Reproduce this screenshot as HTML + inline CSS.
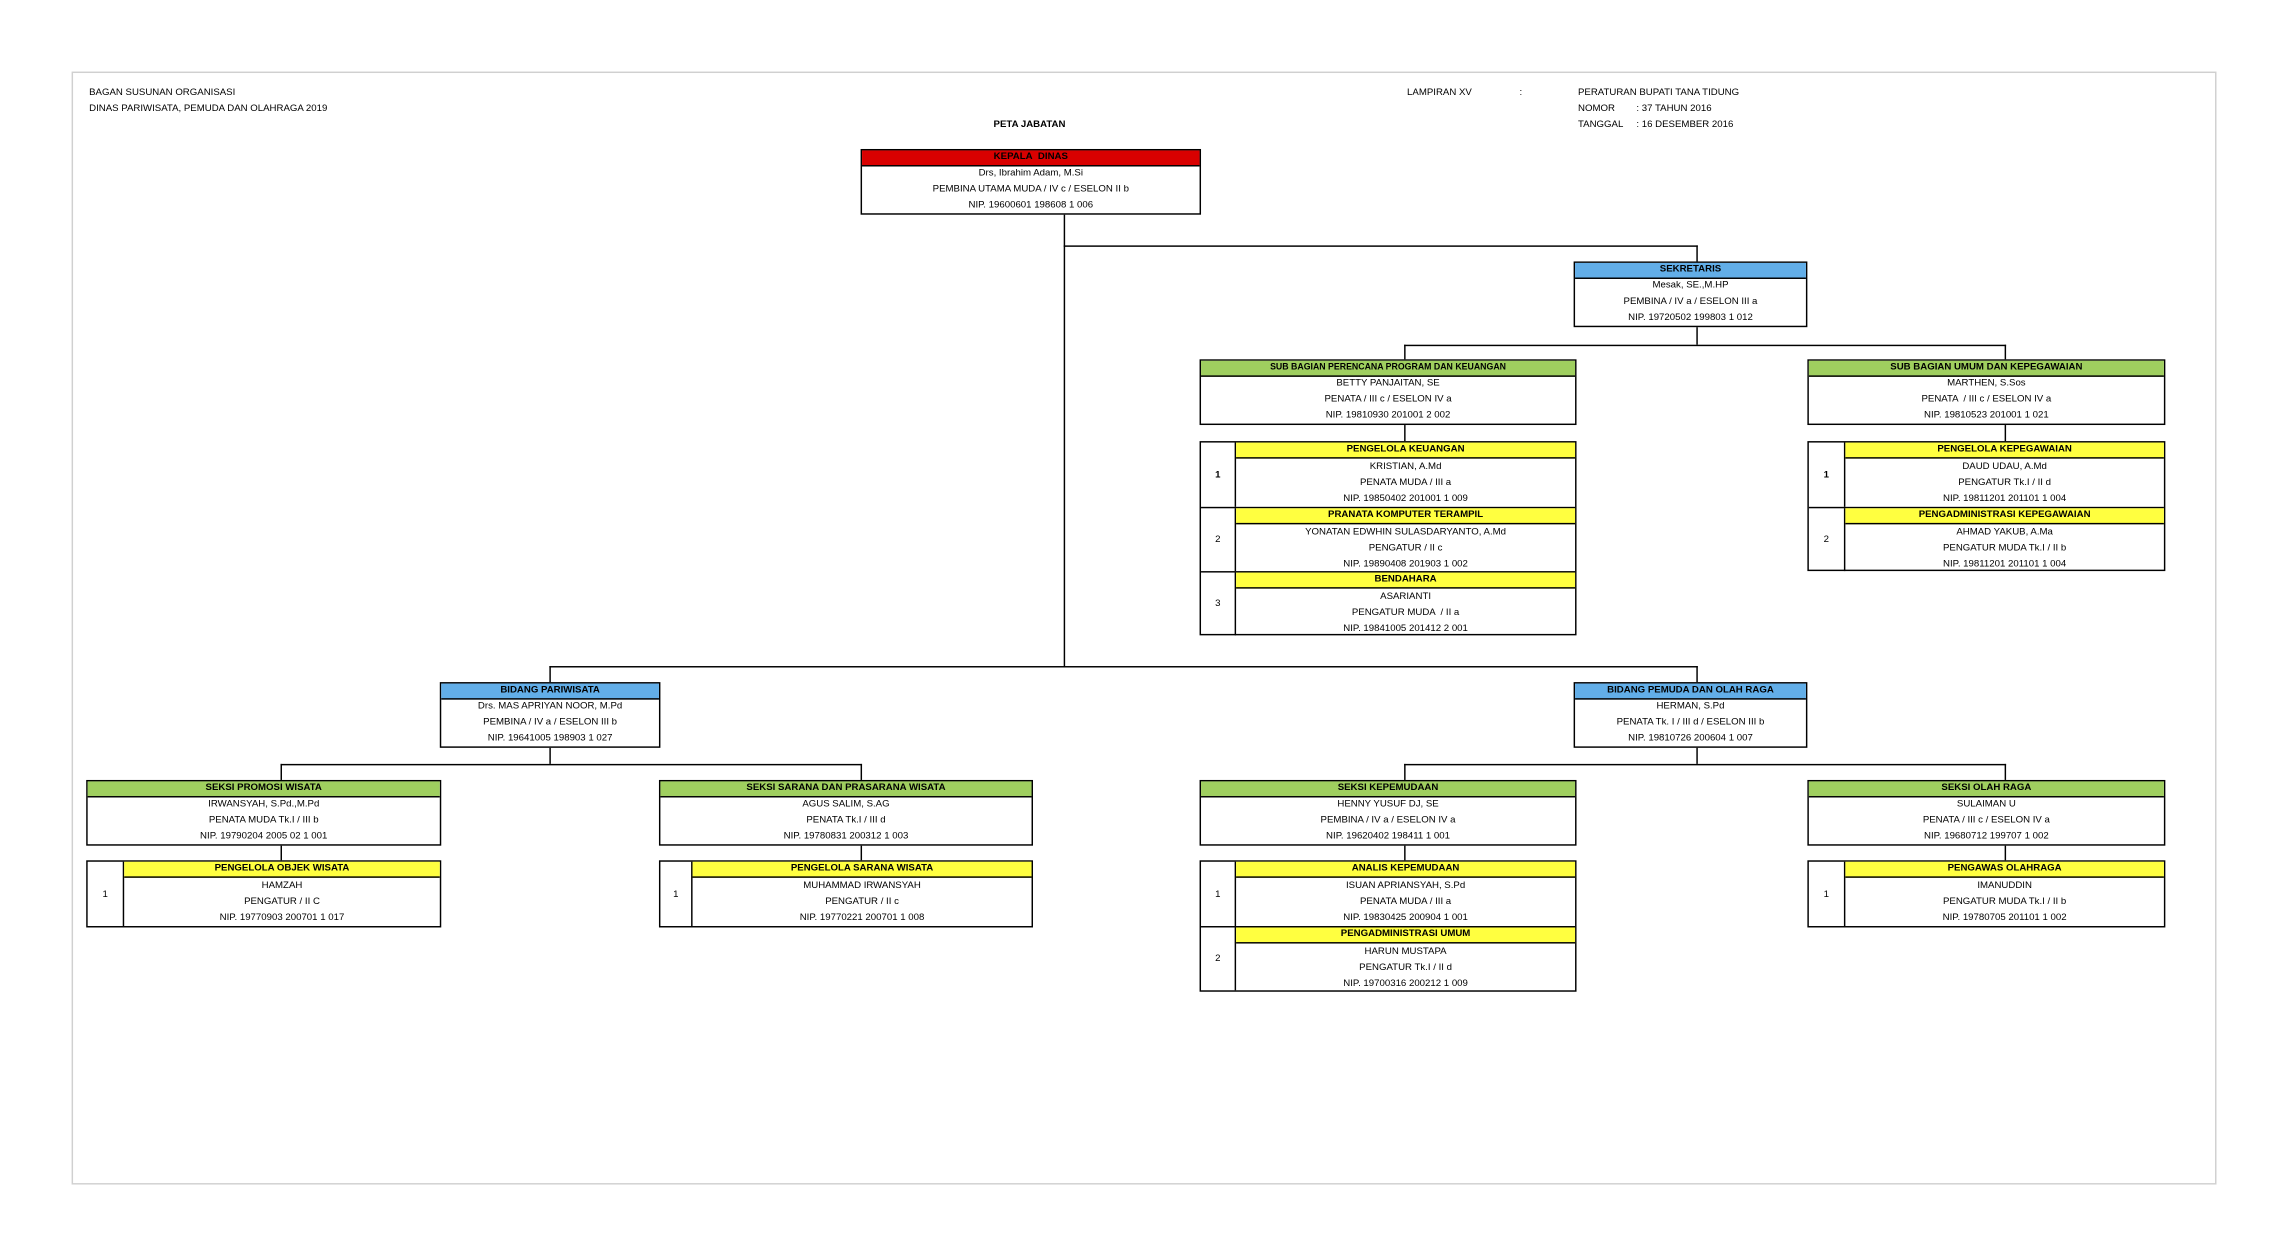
<!DOCTYPE html>
<html><head><meta charset="utf-8"><style>
html,body{margin:0;padding:0;background:#fff;width:2291px;height:1259px;overflow:hidden}
#c{position:absolute;left:0;top:0;width:1568px;height:862px;transform:scale(1.4611,1.4606);transform-origin:0 0;font-family:"Liberation Sans Narrow","Liberation Sans",sans-serif;font-size:6.6px;color:#000}
.t{position:absolute;white-space:nowrap;line-height:9px}
.b{position:absolute;border:1.3px solid #000;background:#fff;box-sizing:border-box}
.h{height:10px;line-height:10px;text-align:center;font-weight:bold;border-bottom:1px solid #000;white-space:nowrap;overflow:hidden}
.r{height:10.8px;line-height:10.8px;text-align:center;white-space:nowrap}
.red{background:#d90000}.blue{background:#62aee8}.green{background:#9fcf5f}.yel{background:#ffff40}
.l{position:absolute;background:#000}
.e{display:flex;border-top:1.3px solid #000;height:44px;box-sizing:border-box}
.e:first-child{border-top:none}
.n{border-right:1.3px solid #000;display:flex;align-items:center;justify-content:center;box-sizing:border-box}
.cc{flex:1}
.e .r{height:11px;line-height:11px}
</style></head><body><div id="c">
<div style="position:absolute;left:49px;top:49px;width:1468px;height:762px;border:1px solid #d0d0d0;box-sizing:border-box"></div>
<div class="t" style="left:61px;top:59px">BAGAN SUSUNAN ORGANISASI</div>
<div class="t" style="left:61px;top:70px">DINAS PARIWISATA, PEMUDA DAN OLAHRAGA 2019</div>
<div class="t" style="left:680px;top:81px;font-weight:bold">PETA JABATAN</div>
<div class="t" style="left:963px;top:59px">LAMPIRAN XV</div>
<div class="t" style="left:1040px;top:59px">:</div>
<div class="t" style="left:1080px;top:59px">PERATURAN BUPATI TANA TIDUNG</div>
<div class="t" style="left:1080px;top:70px">NOMOR</div><div class="t" style="left:1120px;top:70px">: 37 TAHUN 2016</div>
<div class="t" style="left:1080px;top:81px">TANGGAL</div><div class="t" style="left:1120px;top:81px">: 16 DESEMBER 2016</div>

<!-- lines -->
<div class="l" style="left:728px;top:146px;width:1.3px;height:311px"></div>
<div class="l" style="left:728px;top:168px;width:434px;height:1.3px"></div>
<div class="l" style="left:1161px;top:168px;width:1.3px;height:12px"></div>
<div class="l" style="left:1161px;top:223px;width:1.3px;height:13px"></div>
<div class="l" style="left:961px;top:236px;width:412px;height:1.3px"></div>
<div class="l" style="left:961px;top:236px;width:1.3px;height:11px"></div>
<div class="l" style="left:1372px;top:236px;width:1.3px;height:11px"></div>
<div class="l" style="left:961px;top:290px;width:1.3px;height:13px"></div>
<div class="l" style="left:1372px;top:290px;width:1.3px;height:13px"></div>
<div class="l" style="left:376px;top:456px;width:786px;height:1.3px"></div>
<div class="l" style="left:376px;top:456px;width:1.3px;height:12px"></div>
<div class="l" style="left:1161px;top:456px;width:1.3px;height:12px"></div>
<div class="l" style="left:376px;top:511px;width:1.3px;height:12px"></div>
<div class="l" style="left:192px;top:523px;width:398px;height:1.3px"></div>
<div class="l" style="left:192px;top:523px;width:1.3px;height:12px"></div>
<div class="l" style="left:589px;top:523px;width:1.3px;height:12px"></div>
<div class="l" style="left:192px;top:578px;width:1.3px;height:12px"></div>
<div class="l" style="left:589px;top:578px;width:1.3px;height:12px"></div>
<div class="l" style="left:1161px;top:511px;width:1.3px;height:12px"></div>
<div class="l" style="left:961px;top:523px;width:412px;height:1.3px"></div>
<div class="l" style="left:961px;top:523px;width:1.3px;height:12px"></div>
<div class="l" style="left:1372px;top:523px;width:1.3px;height:12px"></div>
<div class="l" style="left:961px;top:578px;width:1.3px;height:12px"></div>
<div class="l" style="left:1372px;top:578px;width:1.3px;height:12px"></div>

<!-- boxes -->
<div class="b" style="left:589px;top:102px;width:233px;height:45px"><div class="h red">KEPALA&nbsp; DINAS</div><div class="r">Drs, Ibrahim Adam, M.Si</div><div class="r">PEMBINA UTAMA MUDA / IV c / ESELON II b</div><div class="r">NIP. 19600601 198608 1 006</div></div>
<div class="b" style="left:1077px;top:179px;width:160px;height:45px"><div class="h blue">SEKRETARIS</div><div class="r">Mesak, SE.,M.HP</div><div class="r">PEMBINA / IV a / ESELON III a</div><div class="r">NIP. 19720502 199803 1 012</div></div>
<div class="b" style="left:821px;top:246px;width:258px;height:45px"><div class="h green" style="font-size:6px">SUB BAGIAN PERENCANA PROGRAM DAN KEUANGAN</div><div class="r">BETTY PANJAITAN, SE</div><div class="r">PENATA / III c / ESELON IV a</div><div class="r">NIP. 19810930 201001 2 002</div></div>
<div class="b" style="left:1237px;top:246px;width:245px;height:45px"><div class="h green">SUB BAGIAN UMUM DAN KEPEGAWAIAN</div><div class="r">MARTHEN, S.Sos</div><div class="r">PENATA &nbsp;/ III c / ESELON IV a</div><div class="r">NIP. 19810523 201001 1 021</div></div>

<div class="b" style="left:821px;top:302px;width:258px;height:133px">
<div class="e"><div class="n" style="width:24px;font-weight:bold">1</div><div class="cc"><div class="h yel">PENGELOLA KEUANGAN</div><div class="r">KRISTIAN, A.Md</div><div class="r">PENATA MUDA / III a</div><div class="r">NIP. 19850402 201001 1 009</div></div></div>
<div class="e"><div class="n" style="width:24px">2</div><div class="cc"><div class="h yel">PRANATA KOMPUTER TERAMPIL</div><div class="r">YONATAN EDWHIN SULASDARYANTO, A.Md</div><div class="r">PENGATUR / II c</div><div class="r">NIP. 19890408 201903 1 002</div></div></div>
<div class="e"><div class="n" style="width:24px">3</div><div class="cc"><div class="h yel">BENDAHARA</div><div class="r">ASARIANTI</div><div class="r">PENGATUR MUDA &nbsp;/ II a</div><div class="r">NIP. 19841005 201412 2 001</div></div></div>
</div>
<div class="b" style="left:1237px;top:302px;width:245px;height:89px">
<div class="e"><div class="n" style="width:25px;font-weight:bold">1</div><div class="cc"><div class="h yel">PENGELOLA KEPEGAWAIAN</div><div class="r">DAUD UDAU, A.Md</div><div class="r">PENGATUR Tk.I / II d</div><div class="r">NIP. 19811201 201101 1 004</div></div></div>
<div class="e"><div class="n" style="width:25px">2</div><div class="cc"><div class="h yel">PENGADMINISTRASI KEPEGAWAIAN</div><div class="r">AHMAD YAKUB, A.Ma</div><div class="r">PENGATUR MUDA Tk.I / II b</div><div class="r">NIP. 19811201 201101 1 004</div></div></div>
</div>

<div class="b" style="left:301px;top:467px;width:151px;height:45px"><div class="h blue">BIDANG PARIWISATA</div><div class="r">Drs. MAS APRIYAN NOOR, M.Pd</div><div class="r">PEMBINA / IV a / ESELON III b</div><div class="r">NIP. 19641005 198903 1 027</div></div>
<div class="b" style="left:1077px;top:467px;width:160px;height:45px"><div class="h blue">BIDANG PEMUDA DAN OLAH RAGA</div><div class="r">HERMAN, S.Pd</div><div class="r">PENATA Tk. I / III d / ESELON III b</div><div class="r">NIP. 19810726 200604 1 007</div></div>

<div class="b" style="left:59px;top:534px;width:243px;height:45px"><div class="h green">SEKSI PROMOSI WISATA</div><div class="r">IRWANSYAH, S.Pd.,M.Pd</div><div class="r">PENATA MUDA Tk.I / III b</div><div class="r">NIP. 19790204 2005 02 1 001</div></div>
<div class="b" style="left:451px;top:534px;width:256px;height:45px"><div class="h green">SEKSI SARANA DAN PRASARANA WISATA</div><div class="r">AGUS SALIM, S.AG</div><div class="r">PENATA Tk.I / III d</div><div class="r">NIP. 19780831 200312 1 003</div></div>
<div class="b" style="left:821px;top:534px;width:258px;height:45px"><div class="h green">SEKSI KEPEMUDAAN</div><div class="r">HENNY YUSUF DJ, SE</div><div class="r">PEMBINA / IV a / ESELON IV a</div><div class="r">NIP. 19620402 198411 1 001</div></div>
<div class="b" style="left:1237px;top:534px;width:245px;height:45px"><div class="h green">SEKSI OLAH RAGA</div><div class="r">SULAIMAN U</div><div class="r">PENATA / III c / ESELON IV a</div><div class="r">NIP. 19680712 199707 1 002</div></div>

<div class="b" style="left:59px;top:589px;width:243px;height:46px">
<div class="e"><div class="n" style="width:25px">1</div><div class="cc"><div class="h yel">PENGELOLA OBJEK WISATA</div><div class="r">HAMZAH</div><div class="r">PENGATUR / II C</div><div class="r">NIP. 19770903 200701 1 017</div></div></div></div>
<div class="b" style="left:451px;top:589px;width:256px;height:46px">
<div class="e"><div class="n" style="width:22px">1</div><div class="cc"><div class="h yel">PENGELOLA SARANA WISATA</div><div class="r">MUHAMMAD IRWANSYAH</div><div class="r">PENGATUR / II c</div><div class="r">NIP. 19770221 200701 1 008</div></div></div></div>
<div class="b" style="left:821px;top:589px;width:258px;height:90px">
<div class="e"><div class="n" style="width:24px">1</div><div class="cc"><div class="h yel">ANALIS KEPEMUDAAN</div><div class="r">ISUAN APRIANSYAH, S.Pd</div><div class="r">PENATA MUDA / III a</div><div class="r">NIP. 19830425 200904 1 001</div></div></div>
<div class="e"><div class="n" style="width:24px">2</div><div class="cc"><div class="h yel">PENGADMINISTRASI UMUM</div><div class="r">HARUN MUSTAPA</div><div class="r">PENGATUR Tk.I / II d</div><div class="r">NIP. 19700316 200212 1 009</div></div></div></div>
<div class="b" style="left:1237px;top:589px;width:245px;height:46px">
<div class="e"><div class="n" style="width:25px">1</div><div class="cc"><div class="h yel">PENGAWAS OLAHRAGA</div><div class="r">IMANUDDIN</div><div class="r">PENGATUR MUDA Tk.I / II b</div><div class="r">NIP. 19780705 201101 1 002</div></div></div></div>
</div></body></html>
